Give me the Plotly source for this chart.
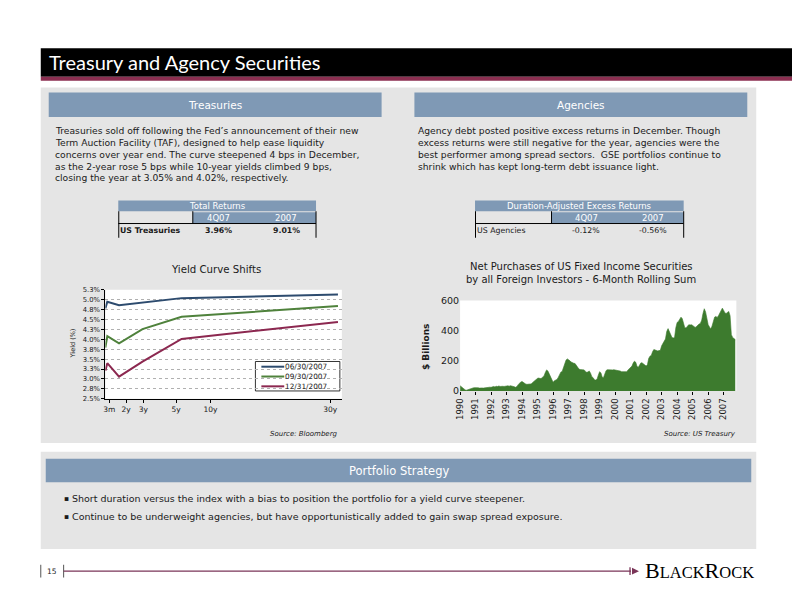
import plotly.graph_objects as go
import pandas as pd

W, H = 792, 612
FONT = "DejaVu Sans"
TXT = "#1a1a1a"
STEEL = "#7F99B5"
PANEL = "#E5E5E5"
MAROON = "#8B2E50"

# ---------------- data: yield curve ----------------
maturity_years = [0.25, 0.5, 2, 5, 10, 30]
curve_dates = ["06/30/2007", "09/30/2007", "12/31/2007"]
yields_jun07 = [4.78, 4.95, 4.86, 4.93, 5.04, 5.13]
yields_sep07 = [3.79, 4.08, 3.90, 4.26, 4.57, 4.84]
yields_dec07 = [3.21, 3.40, 3.06, 3.44, 4.01, 4.44]
curve_colors = ["#2D4B6E", "#4F823C", "#8C2850"]
yield_tick_vals = [2.5, 2.75, 3.0, 3.25, 3.5, 3.75, 4.0, 4.25, 4.5, 4.75, 5.0, 5.25]
yield_tick_text = ["2.5%", "2.8%", "3.0%", "3.3%", "3.5%", "3.8%", "4.0%", "4.3%",
                   "4.5%", "4.8%", "5.0%", "5.3%"]
tenor_tick_text = ["3m", "2y", "3y", "5y", "10y", "30y"]
tenor_tick_vals = [0.75, 2.9, 5.1, 9.3, 13.7, 29.0]

# ---------------- data: net foreign purchases ($bn, 6-month rolling sum, monthly) ----------------
p1990 = [35, 28, 18, 10, 7, 5, 9, 13, 15, 18, 20, 22]
p1991 = [22, 24, 21, 19, 22, 20, 19, 21, 23, 20, 24, 25]
p1992 = [24, 27, 30, 27, 31, 29, 33, 30, 28, 31, 30, 34]
p1993 = [33, 34, 32, 35, 34, 33, 28, 24, 30, 42, 52, 60]
p1994 = [62, 57, 48, 45, 44, 46, 44, 47, 55, 62, 70, 78]
p1995 = [84, 86, 82, 85, 90, 100, 122, 140, 132, 112, 95, 78]
p1996 = [57, 68, 73, 76, 90, 110, 125, 130, 160, 190, 205, 213]
p1997 = [208, 200, 192, 186, 184, 182, 170, 155, 145, 142, 140, 138]
p1998 = [140, 130, 124, 126, 133, 118, 95, 88, 75, 72, 78, 105]
p1999 = [128, 120, 92, 88, 110, 135, 141, 140, 139, 142, 140, 141]
p2000 = [139, 141, 140, 138, 132, 128, 127, 128, 126, 128, 140, 150]
p2001 = [154, 165, 185, 198, 190, 162, 158, 175, 187, 186, 180, 170]
p2002 = [165, 175, 215, 231, 235, 260, 275, 272, 268, 266, 268, 270]
p2003 = [300, 320, 330, 345, 395, 414, 395, 370, 355, 352, 355, 420]
p2004 = [455, 462, 475, 490, 480, 445, 418, 420, 432, 440, 438, 440]
p2005 = [435, 425, 422, 428, 440, 444, 448, 470, 515, 546, 525, 480]
p2006 = [440, 425, 411, 430, 460, 490, 495, 488, 500, 520, 540, 550]
p2007 = [535, 517, 515, 522, 528, 500, 374, 355, 345, 341]
purchases = (p1990 + p1991 + p1992 + p1993 + p1994 + p1995 + p1996 + p1997 + p1998
             + p1999 + p2000 + p2001 + p2002 + p2003 + p2004 + p2005 + p2006 + p2007)
purchase_dates = pd.date_range("1990-01-01", periods=len(purchases), freq="MS")

# ---------------- data: tables ----------------
table_periods = ["4Q07", "2007"]
treasury_returns = ["3.96%", "9.01%"]
agency_excess = ["-0.12%", "-0.56%"]

treasury_text = [
    "Treasuries sold off following the Fed\u2019s announcement of their new",
    "Term Auction Facility (TAF), designed to help ease liquidity",
    "concerns over year end. The curve steepened 4 bps in December,",
    "as the 2-year rose 5 bps while 10-year yields climbed 9 bps,",
    "closing the year at 3.05% and 4.02%, respectively.",
]
agency_text = [
    "Agency debt posted positive excess returns in December. Though",
    "excess returns were still negative for the year, agencies were the",
    "best performer among spread sectors.  GSE portfolios continue to",
    "shrink which has kept long-term debt issuance light.",
]
strategy_bullets = [
    "Short duration versus the index with a bias to position the portfolio for a yield curve steepener.",
    "Continue to be underweight agencies, but have opportunistically added to gain swap spread exposure.",
]


def X(p):
    return p / W


def Y(p):
    return 1 - p / H


shapes, annots = [], []


def rect(x0, y0, x1, y1, fill, line=None):
    shapes.append(dict(type="rect", xref="paper", yref="paper", x0=X(x0), x1=X(x1),
                       y0=Y(y1), y1=Y(y0), fillcolor=fill,
                       line=line if line else dict(width=0), layer="below"))


def seg(x0, y0, x1, y1, color="black", width=1, layer="above"):
    shapes.append(dict(type="line", xref="paper", yref="paper", x0=X(x0), x1=X(x1),
                       y0=Y(y0), y1=Y(y1), line=dict(color=color, width=width), layer=layer))


def text(x, y, s, size=8, color=TXT, xanchor="left", bold=False, italic=False,
         family=FONT, angle=0):
    if bold:
        s = f"<b>{s}</b>"
    if italic:
        s = f"<i>{s}</i>"
    annots.append(dict(xref="paper", yref="paper", x=X(x), y=Y(y), text=s, showarrow=False,
                       xanchor=xanchor, yanchor="middle", textangle=angle,
                       font=dict(size=size, color=color, family=family), borderpad=0))


# header
rect(36, 43, 792, 72, "black")
rect(36, 72, 792, 76, MAROON)
text(43, 57.5, "Treasury and Agency Securities", size=20, color="white", family="Lato")

# top panel
rect(36, 83, 756, 445, PANEL)
rect(44, 88, 379, 113, STEEL)
rect(412, 88, 747, 113, STEEL)
text(211.5, 100.5, "Treasuries", size=10.5, color="white", xanchor="center")
text(579.5, 100.5, "Agencies", size=10.5, color="white", xanchor="center")
for i, line in enumerate(treasury_text):
    text(49, 127 + 12 * i, line, size=9.2)
for i, line in enumerate(agency_text):
    text(415, 127 + 12 * i, line, size=9.2)

# tables
def table(x0, xs, x1, title, label, values, label_bold, col_centers):
    rect(x0, 198, x1, 209, STEEL)
    rect(xs, 210, x1, 221, STEEL)
    seg(x0, 221.5, x1, 221.5)
    seg(x0 + 0.5, 209, x0 + 0.5, 236)
    seg(xs, 209, xs, 221.5)
    seg(x1, 209, x1, 236)
    text((x0 + x1) / 2, 203.5, title, size=8.5, color="white", xanchor="center")
    for c, per in zip(col_centers, table_periods):
        text(c, 215.5, per, size=8.5, color="white", xanchor="center")
    text(x0 + 1, 229, label, size=7.8, bold=label_bold)
    for c, v in zip(col_centers, values):
        text(c, 229, v, size=7.8, bold=label_bold, xanchor="center")


table(114, 189, 313, "Total Returns", "US Treasuries", treasury_returns, True, [215, 283])
table(473, 550, 683, "Duration-Adjusted Excess Returns", "US Agencies", agency_excess, False, [585, 652])

# plot backgrounds
rect(101, 289, 339, 400, "white")
rect(458, 300, 736, 392, "white")

# chart titles / labels
text(212, 268, "Yield Curve Shifts", size=10.2, xanchor="center")
text(68, 344, "Yield (%)", size=6.5, xanchor="center", angle=-90)
text(580, 265, "Net Purchases of US Fixed Income Securities", size=10, xanchor="center")
text(580, 278, "by all Foreign Investors - 6-Month Rolling Sum", size=10, xanchor="center")
text(423, 347, "$ Billions", size=9, xanchor="center", angle=-90, bold=True)
text(266, 436, "Source: Bloomberg", size=7, italic=True)
text(737, 436, "Source: US Treasury", size=7, italic=True, xanchor="right")

# manual legend for the yield curve chart
rect(252, 362, 337, 392, "white", line=dict(color="black", width=0.8))
for i, (name, col) in enumerate(zip(curve_dates, curve_colors)):
    yy = 367.3 + 10 * i
    seg(258, yy, 281, yy, color=col, width=2)
    text(281, yy, name, size=7.3)

# bottom panel
rect(36, 454, 756, 553, PANEL)
rect(41, 461, 751, 485, STEEL)
text(396, 473.5, "Portfolio Strategy", size=11.5, color="white", xanchor="center")
for i, b in enumerate(strategy_bullets):
    yy = 502 + 17.5 * i
    text(58, yy, "\u25aa", size=7.5)
    text(66, yy, b, size=9.5)

# footer
seg(36, 569, 36, 582, color="#555555", width=1)
seg(59, 569, 59, 582, color="#555555", width=1)
text(47.5, 576, "15", size=7.5, xanchor="center")
seg(59, 575.5, 630, 575.5, color="#7A3558", width=1.3)
seg(629, 571.5, 629, 579.5, color="#7A3558", width=1.3)
shapes.append(dict(type="path", xref="paper", yref="paper",
                   path=f"M {X(631)},{Y(572)} L {X(638)},{Y(575.5)} L {X(631)},{Y(579)} Z",
                   fillcolor="#7A3558", line=dict(width=0)))
text(643, 575, "<span style='font-size:22px'>B</span>LACK<span style='font-size:22px'>R</span>OCK",
     size=16.5, color="black", family="Liberation Serif")

fig = go.Figure()
for name, ys, col in zip(curve_dates, [yields_jun07, yields_sep07, yields_dec07], curve_colors):
    fig.add_trace(go.Scatter(x=maturity_years, y=ys, mode="lines", name=name,
                             line=dict(color=col, width=2), xaxis="x", yaxis="y",
                             cliponaxis=False))
fig.add_trace(go.Scatter(x=purchase_dates, y=purchases, mode="lines", fill="tozeroy",
                         line=dict(color="#3D7B2E", width=0.6), fillcolor="#3D7B2E",
                         xaxis="x2", yaxis="y2", name="Net purchases"))

fig.update_layout(
    width=W, height=H, margin=dict(l=0, r=0, t=0, b=0),
    paper_bgcolor="white", plot_bgcolor="rgba(0,0,0,0)", showlegend=False,
    font=dict(family=FONT, color=TXT),
    shapes=shapes, annotations=annots,
    xaxis=dict(domain=[X(101), X(339)], range=[0.25, 30.5], tickmode="array",
               tickvals=tenor_tick_vals, ticktext=tenor_tick_text, showgrid=False,
               zeroline=False, showline=True, linecolor="black", linewidth=1,
               ticks="outside", ticklen=3, tickcolor="black",
               tickfont=dict(size=7.5, color=TXT)),
    yaxis=dict(domain=[Y(400), Y(289)], range=[2.5, 5.25], tickmode="array",
               tickvals=yield_tick_vals, ticktext=yield_tick_text, showgrid=True,
               gridcolor="#B0B0B0", griddash="dot", gridwidth=1, zeroline=False,
               showline=True, linecolor="black", linewidth=1, ticks="outside", ticklen=3,
               tickcolor="black", tickfont=dict(size=6.8, color=TXT)),
    xaxis2=dict(domain=[X(458), X(736)], range=["1990-01-01", "2007-10-27"], type="date",
                tick0="1990-01-01", dtick="M12", tickformat="%Y", tickangle=-90,
                showgrid=False, zeroline=False, showline=False, ticks="outside",
                ticklen=3, tickcolor="black", tickfont=dict(size=8.5, color=TXT),
                anchor="y2"),
    yaxis2=dict(domain=[Y(392), Y(300)], range=[0, 600], tickmode="array",
                tickvals=[0, 200, 400, 600], showgrid=False, zeroline=False,
                showline=False, tickfont=dict(size=9.5, color=TXT), anchor="x2"),
)

fig.write_html(
    "out.html",
    config={"displayModeBar": False, "staticPlot": True},
    post_script=(
        "document.documentElement.style.margin='0';"
        "document.body.style.margin='0';document.body.style.padding='0';"
        "document.body.style.overflow='hidden';"
        "var d=document.getElementById('{plot_id}');"
        "d.style.position='absolute';d.style.left='0px';d.style.top='0px';"
    ),
)
